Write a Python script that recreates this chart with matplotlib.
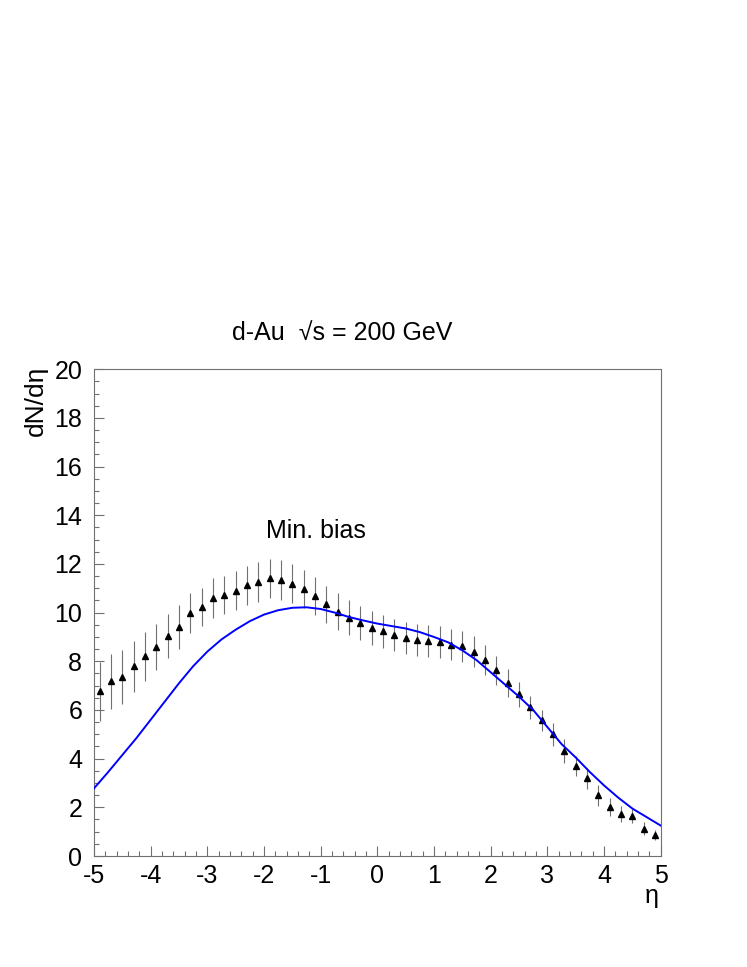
import matplotlib
matplotlib.use("Agg")
import matplotlib.pyplot as plt
from matplotlib.ticker import MultipleLocator
import numpy as np

plt.rcParams['font.family'] = ['Liberation Sans', 'DejaVu Sans']
plt.rcParams['axes.unicode_minus'] = False

# data points (bin centres)
eta = [-4.9, -4.7, -4.5, -4.3, -4.1, -3.9, -3.7, -3.5, -3.3, -3.1,
       -2.9, -2.7, -2.5, -2.3, -2.1, -1.9, -1.7, -1.5, -1.3, -1.1,
       -0.9, -0.7, -0.5, -0.3, -0.1, 0.1, 0.3, 0.5, 0.7, 0.9,
       1.1, 1.3, 1.5, 1.7, 1.9, 2.1, 2.3, 2.5, 2.7, 2.9,
       3.1, 3.3, 3.5, 3.7, 3.9, 4.1, 4.3, 4.5, 4.7, 4.9]
dndeta = [6.76, 7.18, 7.35, 7.80, 8.21, 8.58, 9.03, 9.41, 9.99, 10.25,
          10.60, 10.72, 10.91, 11.12, 11.26, 11.42, 11.35, 11.19, 10.98, 10.70,
          10.34, 10.04, 9.80, 9.56, 9.37, 9.23, 9.08, 8.96, 8.89, 8.85,
          8.78, 8.69, 8.61, 8.40, 8.06, 7.63, 7.10, 6.65, 6.11, 5.57,
          5.00, 4.30, 3.70, 3.20, 2.50, 2.02, 1.73, 1.64, 1.13, 0.86]
err = [1.20, 1.14, 1.10, 1.05, 1.00, 0.94, 0.91, 0.90, 0.82, 0.78,
       0.84, 0.77, 0.79, 0.80, 0.82, 0.80, 0.82, 0.80, 0.79, 0.78,
       0.76, 0.76, 0.73, 0.70, 0.68, 0.68, 0.67, 0.67, 0.66, 0.66,
       0.66, 0.65, 0.64, 0.65, 0.62, 0.59, 0.57, 0.52, 0.46, 0.42,
       0.47, 0.49, 0.42, 0.43, 0.43, 0.37, 0.34, 0.30, 0.27, 0.22]

# model curve
curve_eta = [-5.0, -4.75, -4.5, -4.25, -4.0, -3.75, -3.5, -3.25, -3.0, -2.75,
             -2.5, -2.25, -2.0, -1.75, -1.5, -1.25, -1.0, -0.75, -0.5, -0.25,
             0.0, 0.25, 0.5, 0.75, 1.0, 1.25, 1.5, 1.75, 2.0, 2.25,
             2.5, 2.75, 3.0, 3.25, 3.5, 3.75, 4.0, 4.25, 4.5, 4.75, 5.0]
curve_val = [2.78, 3.45, 4.15, 4.85, 5.60, 6.35, 7.10, 7.80, 8.40, 8.90,
             9.30, 9.65, 9.92, 10.10, 10.20, 10.22, 10.15, 10.00, 9.82, 9.68,
             9.55, 9.45, 9.35, 9.20, 9.00, 8.78, 8.45, 8.05, 7.55, 7.05,
             6.55, 6.00, 5.30, 4.60, 4.05, 3.45, 2.90, 2.40, 1.95, 1.60, 1.25]

W, H = 747, 967
fig = plt.figure(figsize=(W / 100, H / 100), dpi=100)
ax = fig.add_axes([94 / W, 1 - 856 / H, (660.7 - 94) / W, (856 - 369.3) / H])

ax.errorbar(eta, dndeta, yerr=err, fmt='none', ecolor='#707070', elinewidth=0.8, capsize=0, zorder=2)
ax.plot(eta, dndeta, linestyle='none', marker='^', color='black', markersize=4.8, zorder=3)
ax.plot(curve_eta, curve_val, color='#0000ff', linewidth=1.4, zorder=4)

ax.set_xlim(-5, 5)
ax.set_ylim(0, 20)
ax.xaxis.set_major_locator(MultipleLocator(1))
ax.xaxis.set_minor_locator(MultipleLocator(0.2))
ax.yaxis.set_major_locator(MultipleLocator(2))
ax.yaxis.set_minor_locator(MultipleLocator(0.5))

for s in ax.spines.values():
    s.set_color('#707070')
    s.set_linewidth(0.8)

ax.tick_params(which='both', direction='in', color='#707070', width=0.8,
               top=False, right=False, labelsize=18)
ax.tick_params(which='major', length=7)
ax.tick_params(which='minor', length=3.5)
ax.tick_params(axis='x', which='major', pad=6)
ax.tick_params(axis='y', which='major', pad=8.5)

fig.text(342 / W, 1 - 333 / H, 'd-Au  \u221as = 200 GeV', ha='center', va='center', fontsize=18)
fig.text(36 / W, 1 - 366 / H, 'dN/d\u03b7', rotation=90, ha='center', va='top', fontsize=19)
fig.text(652 / W, 1 - 896 / H, '\u03b7', ha='center', va='center', fontsize=18)
ax.text(-1.08, 13.35, 'Min. bias', ha='center', va='center', fontsize=18)

fig.savefig('out.png', dpi=100)
